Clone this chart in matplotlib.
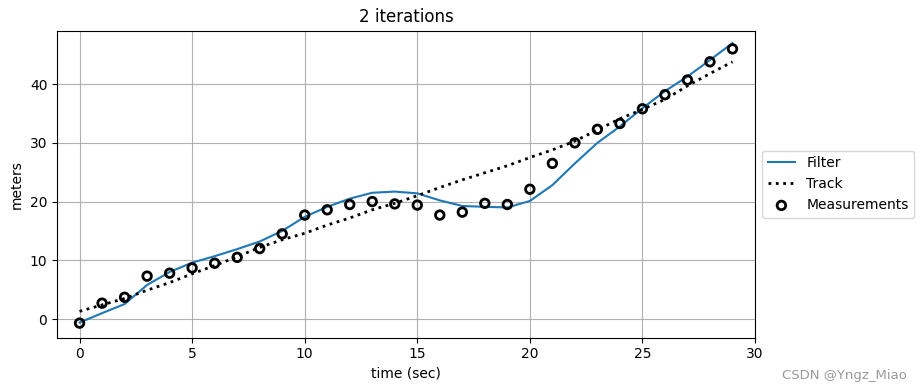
import numpy as np
import matplotlib
matplotlib.use("Agg")
import matplotlib.pyplot as plt

t = list(range(30))
measurements = [-0.7, 2.7, 3.7, 7.3, 7.8, 8.7, 9.5, 10.5, 12.0, 14.5,
                17.7, 18.6, 19.5, 20.0, 19.6, 19.4, 17.7, 18.2, 19.7, 19.5,
                22.1, 26.5, 30.0, 32.3, 33.3, 35.8, 38.2, 40.7, 43.8, 46.0]
filter_est = [-0.6, 1.0, 2.55, 5.8, 8.0, 9.6, 10.7, 11.9, 13.2, 15.0,
              17.4, 19.1, 20.5, 21.5, 21.7, 21.4, 20.2, 19.25, 19.1, 19.0,
              20.1, 22.8, 26.5, 30.0, 32.8, 35.9, 38.8, 41.3, 44.1, 47.0]
track = [1.3, 2.4, 3.5, 4.9, 6.2, 7.7, 9.1, 10.6, 12.2, 13.5,
         14.6, 16.0, 17.2, 18.6, 19.7, 21.0, 22.4, 23.7, 24.9, 26.1,
         27.5, 28.8, 30.3, 32.2, 34.1, 35.7, 37.4, 39.7, 41.8, 43.8]

fig = plt.figure(figsize=(9.23, 3.91), dpi=100)
ax = fig.add_axes([0.0618, 0.1368, 0.818 - 0.0618, 0.9215 - 0.1368])

ax.plot(t, filter_est, color='C0', lw=1.5, label='Filter')
ax.plot(t, track, 'k:', lw=2, label='Track')
ax.scatter(t, measurements, s=38, edgecolor='k', facecolor='none', lw=2,
           label='Measurements', zorder=3)

ax.set_xlim(-1, 30)
ax.set_ylim(-3.15, 49.1)
ax.grid(True)
ax.set_title('2 iterations')
ax.set_xlabel('time (sec)')
ax.set_ylabel('meters')
ax.legend(loc='center left', bbox_to_anchor=(1, 0.5))

fig.text(0.983, 0.022, 'CSDN @Yngz_Miao', ha='right', va='bottom',
         color='#999999', fontsize=9.5)

fig.savefig('out.png', dpi=100)
